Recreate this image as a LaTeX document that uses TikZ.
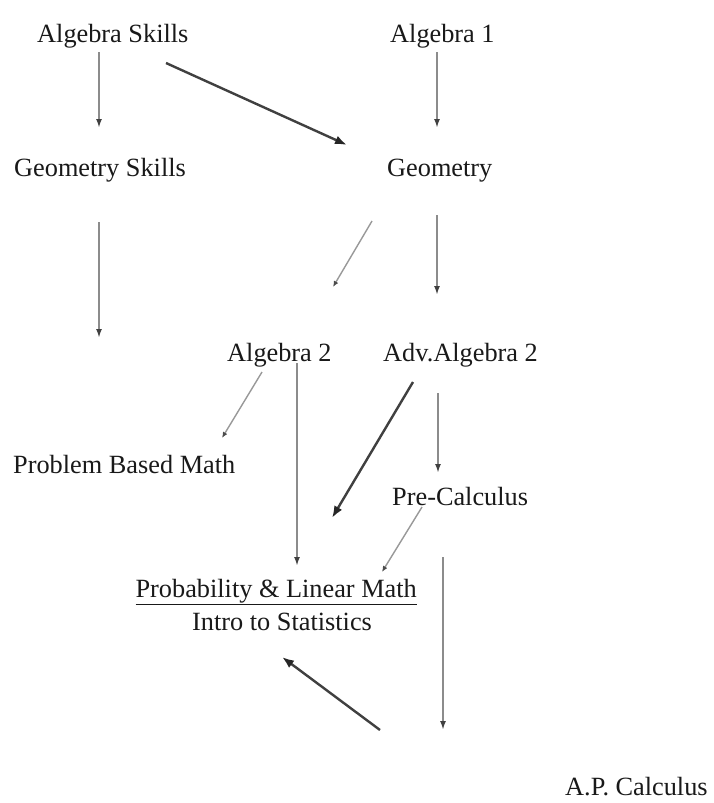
\documentclass[tikz,border=0pt]{standalone}
\usepackage{fontspec}
\setmainfont{Liberation Serif}
\usetikzlibrary{arrows.meta}
\begin{document}
\begin{tikzpicture}[x=1pt,y=-1pt,
  lbl/.style={font=\fontsize{26.3}{30}\selectfont, inner sep=0pt, anchor=base west, text=black!90},
  gline/.style={draw=black!45, line width=2pt, -{Latex[length=9pt,width=6pt,color=black!75]}},
  tline/.style={draw=black!40, line width=1.4pt, -{Latex[length=6pt,width=5pt,color=black!70]}},
  dline/.style={draw=black!75, line width=2.4pt, -{Latex[length=12pt,width=9pt,color=black!85]}}]
\useasboundingbox[fill=white] (0,0) rectangle (714,803);

% labels
\node[lbl] (as)  at (37,42)  {Algebra Skills};
\node[lbl] (a1)  at (390,42) {Algebra 1};
\node[lbl] (gs)  at (14,176) {Geometry Skills};
\node[lbl] (geo) at (387,176) {Geometry};
\node[lbl] (a2)  at (227,361) {Algebra 2};
\node[lbl] (aa2) at (383,361) {Adv.Algebra 2};
\node[lbl] (pbm) at (13,473) {Problem Based Math};
\node[lbl] (pc)  at (392,505) {Pre-Calculus};
\node[lbl,anchor=base east] (prob) at (417,597) {\underline{Probability \& Linear Math}};
\node[lbl] (intro) at (192,630) {Intro to Statistics};
\node[lbl] (apc) at (565,795) {A.P. Calculus};

% connector end points
\coordinate (as-s)  at (99,52);   \coordinate (as-e)  at (99,128);
\coordinate (asg-s) at (166,63);  \coordinate (asg-e) at (347,145);
\coordinate (a1-s)  at (437,52);  \coordinate (a1-e)  at (437,128);
\coordinate (gs-s)  at (99,222);  \coordinate (gs-e)  at (99,338);
\coordinate (gd-s)  at (372,221); \coordinate (gd-e)  at (333,287);
\coordinate (g-s)   at (437,215); \coordinate (g-e)   at (437,295);
\coordinate (ap-s)  at (262,372); \coordinate (ap-e)  at (222,438);
\coordinate (a2-s)  at (297,363); \coordinate (a2-e)  at (297,566);
\coordinate (ad-s)  at (413,382); \coordinate (ad-e)  at (332,518);
\coordinate (aa-s)  at (438,393); \coordinate (aa-e)  at (438,473);
\coordinate (pd-s)  at (422,507); \coordinate (pd-e)  at (382,572);
\coordinate (pc-s)  at (443,557); \coordinate (pc-e)  at (443,730);
\coordinate (bd-s)  at (380,730); \coordinate (bd-e)  at (282,657);

\draw[gline] (as-s) -- (as-e);
\draw[dline] (asg-s) -- (asg-e);
\draw[gline] (a1-s) -- (a1-e);
\draw[gline] (gs-s) -- (gs-e);
\draw[tline] (gd-s) -- (gd-e);
\draw[gline] (g-s) -- (g-e);
\draw[tline] (ap-s) -- (ap-e);
\draw[gline] (a2-s) -- (a2-e);
\draw[dline] (ad-s) -- (ad-e);
\draw[gline] (aa-s) -- (aa-e);
\draw[tline] (pd-s) -- (pd-e);
\draw[gline] (pc-s) -- (pc-e);
\draw[dline] (bd-s) -- (bd-e);
\end{tikzpicture}
\end{document}
